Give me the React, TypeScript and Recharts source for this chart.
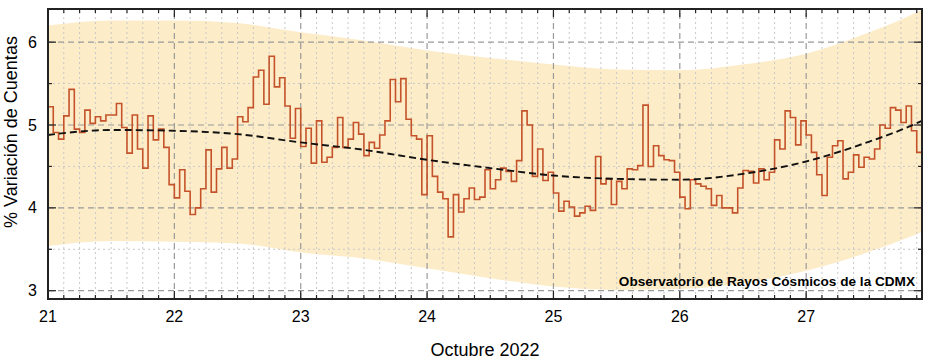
import { ComposedChart, Area, Line, XAxis, YAxis, ReferenceLine } from 'recharts'

// hourly % variation of counts, 21 Oct 00h onwards (one value per hour)
const counts = [
  5.22, 4.91, 4.83, 5.11, 5.43, 4.95, 4.91, 5.18, 5.02, 5.10, 5.05, 5.12, 5.12, 5.26,
  4.97, 4.66, 5.12, 4.71, 4.48, 5.11, 4.82, 4.95, 4.73, 4.28, 4.12, 4.46, 4.20, 3.92,
  4.00, 4.23, 4.70, 4.19, 4.47, 4.73, 4.48, 4.59, 5.10, 5.04, 5.21, 5.58, 5.66, 5.25,
  5.83, 5.46, 5.57, 5.23, 4.84, 5.20, 4.74, 4.96, 4.54, 5.05, 4.55, 4.61, 4.73, 5.09,
  4.73, 4.83, 5.03, 4.89, 4.63, 4.79, 4.72, 4.88, 5.05, 5.55, 5.28, 5.56, 5.07, 4.87,
  4.83, 4.16, 4.87, 4.38, 4.19, 4.11, 3.65, 4.16, 3.95, 4.11, 4.24, 4.10, 4.13, 4.46,
  4.23, 4.34, 4.48, 4.44, 4.32, 4.57, 5.17, 5.00, 4.38, 4.71, 4.33, 4.43, 4.18, 3.96,
  4.08, 4.01, 3.90, 3.94, 4.02, 3.97, 4.62, 4.29, 4.35, 4.04, 4.32, 4.23, 4.47, 4.46,
  4.51, 5.24, 4.50, 4.75, 4.63, 4.58, 4.57, 4.43, 4.13, 3.99, 4.34, 4.29, 4.26, 4.23,
  4.03, 4.15, 4.00, 4.00, 3.94, 4.24, 4.45, 4.44, 4.30, 4.47, 4.34, 4.43, 4.82, 4.71,
  5.17, 5.09, 4.76, 5.05, 4.88, 4.67, 4.40, 4.15, 4.61, 4.75, 4.81, 4.35, 4.43, 4.64,
  4.49, 4.61, 4.59, 4.71, 5.00, 4.96, 5.21, 5.18, 5.03, 5.23, 4.93, 4.67,
]

const fitDays = [21, 21.5, 22, 22.5, 23, 23.5, 24, 24.5, 25, 25.5, 26, 26.5, 27, 27.5, 27.75, 27.917]
const fitTrend = [4.88, 4.94, 4.93, 4.89, 4.79, 4.70, 4.58, 4.48, 4.39, 4.35, 4.34, 4.41, 4.56, 4.80, 4.94, 5.05]
const fitHigh = [6.20, 6.26, 6.26, 6.23, 6.12, 6.02, 5.90, 5.81, 5.73, 5.67, 5.66, 5.73, 5.86, 6.12, 6.27, 6.39]
const fitLow = [3.54, 3.60, 3.59, 3.57, 3.46, 3.39, 3.27, 3.15, 3.05, 3.01, 3.02, 3.09, 3.24, 3.47, 3.61, 3.71]

const dayTicks = [21, 22, 23, 24, 25, 26, 27]
const yTicks = [3, 3.5, 4, 4.5, 5, 5.5, 6]

const START = 21
const X_END = START + counts.length / 24
const Y_MIN = 2.9
const Y_MAX = 6.4

const stepData = counts
  .map((v, i) => ({ t: START + i / 24, v }))
  .concat([{ t: X_END, v: counts[counts.length - 1] }])

const fitData = fitDays.map((d, i) => ({ t: d, trend: fitTrend[i], low: fitLow[i], high: fitHigh[i] }))

// minor ticks every 3 hours
const xTicks: number[] = []
for (let h = 0; START + h / 24 <= X_END; h += 3) xTicks.push(START + h / 24)

const W = 926
const H = 363
const MARGIN = { top: 9, right: 4, bottom: 34, left: 8 }
const X_AXIS_H = 30
const Y_AXIS_W = 40
const PLOT_L = MARGIN.left + Y_AXIS_W
const PLOT_T = MARGIN.top
const PLOT_W = W - MARGIN.left - MARGIN.right - Y_AXIS_W
const PLOT_H = H - MARGIN.top - MARGIN.bottom - X_AXIS_H

// same linear maps as the chart axes, for the frame ticks drawn on top
const px = (t: number) => PLOT_L + ((t - START) / (X_END - START)) * PLOT_W
const py = (v: number) => PLOT_T + ((Y_MAX - v) / (Y_MAX - Y_MIN)) * PLOT_H

const FONT = '"Liberation Sans", Arial, sans-serif'
const FRAME = '#222'
const isWhole = (v: number) => Math.abs(v - Math.round(v)) < 1e-6

function BottomLabel({ x, y, payload }: any) {
  if (!isWhole(payload.value)) return <g />
  return (
    <text x={x} y={y + 23} textAnchor="middle" fontSize={16} fontFamily={FONT} fill="#000">
      {Math.round(payload.value)}
    </text>
  )
}

function LeftLabel({ x, y, payload }: any) {
  if (!isWhole(payload.value)) return <g />
  return (
    <text x={x - 11} y={y} dy="0.35em" textAnchor="end" fontSize={16} fontFamily={FONT} fill="#000">
      {payload.value}
    </text>
  )
}

export default function App() {
  const minorX = xTicks.filter(t => !isWhole(t))
  const majorX = dayTicks.filter(t => t !== START)
  const minorY = yTicks.filter(t => !isWhole(t))
  const majorY = yTicks.filter(t => isWhole(t))
  const bottom = PLOT_T + PLOT_H
  const right = PLOT_L + PLOT_W

  return (
    <div style={{ position: 'absolute', left: 0, top: 0, width: W, height: H }}>
      <ComposedChart width={W} height={H} margin={MARGIN}>
        <Area
          data={fitData}
          dataKey={(d: any) => [d.low, d.high]}
          type="monotone"
          fill="#fdecc8"
          fillOpacity={1}
          stroke="none"
          isAnimationActive={false}
        />

        {minorX.map(t => (
          <ReferenceLine key={'mx' + t} x={t} stroke="#c8c8c8" strokeDasharray="2 3" strokeWidth={1} />
        ))}
        {minorY.map(v => (
          <ReferenceLine key={'my' + v} y={v} stroke="#c8c8c8" strokeDasharray="2 3" strokeWidth={1} />
        ))}
        {majorX.map(t => (
          <ReferenceLine key={'Mx' + t} x={t} stroke="#9a9a9a" strokeDasharray="6 4" strokeWidth={1.2} />
        ))}
        {majorY.map(v => (
          <ReferenceLine key={'My' + v} y={v} stroke="#9a9a9a" strokeDasharray="6 4" strokeWidth={1.2} />
        ))}

        <Line
          data={stepData}
          dataKey="v"
          type="stepAfter"
          stroke="#c4532b"
          strokeWidth={1.6}
          dot={false}
          isAnimationActive={false}
        />
        <Line
          data={fitData}
          dataKey="trend"
          type="monotone"
          stroke="#111"
          strokeWidth={1.9}
          strokeDasharray="7 4"
          dot={false}
          isAnimationActive={false}
        />

        <XAxis
          type="number"
          dataKey="t"
          domain={[START, X_END]}
          allowDataOverflow
          ticks={xTicks}
          interval={0}
          tickSize={0}
          tickMargin={0}
          tickLine={false}
          tick={<BottomLabel />}
          height={X_AXIS_H}
          axisLine={false}
        />
        <YAxis
          type="number"
          domain={[Y_MIN, Y_MAX]}
          allowDataOverflow
          ticks={yTicks}
          interval={0}
          tickSize={0}
          tickMargin={0}
          tickLine={false}
          tick={<LeftLabel />}
          width={Y_AXIS_W}
          axisLine={false}
        />
      </ComposedChart>

      <svg width={W} height={H} style={{ position: 'absolute', left: 0, top: 0, pointerEvents: 'none' }}>
        {/* inward ticks on all four sides */}
        {xTicks.map(t => {
          const len = isWhole(t) ? 8 : 4
          const x = px(t)
          return (
            <g key={'tx' + t}>
              <line x1={x} x2={x} y1={bottom} y2={bottom - len} stroke={FRAME} strokeWidth={1.2} />
              <line x1={x} x2={x} y1={PLOT_T} y2={PLOT_T + len} stroke={FRAME} strokeWidth={1.2} />
            </g>
          )
        })}
        {yTicks.map(v => {
          const len = isWhole(v) ? 8 : 4
          const y = py(v)
          return (
            <g key={'ty' + v}>
              <line x1={PLOT_L} x2={PLOT_L + len} y1={y} y2={y} stroke={FRAME} strokeWidth={1.2} />
              <line x1={right} x2={right - len} y1={y} y2={y} stroke={FRAME} strokeWidth={1.2} />
            </g>
          )
        })}
        <rect x={PLOT_L} y={PLOT_T} width={PLOT_W} height={PLOT_H} fill="none" stroke={FRAME} strokeWidth={2} />

        <text x={915} y={286} textAnchor="end" fontSize={13.6} fontWeight="bold" fontFamily={FONT} fill="#000">
          Observatorio de Rayos Cósmicos de la CDMX
        </text>
        <text x={485} y={356} textAnchor="middle" fontSize={18} fontFamily={FONT} fill="#000">
          Octubre 2022
        </text>
        <text
          x={16.5}
          y={132}
          textAnchor="middle"
          fontSize={18}
          fontFamily={FONT}
          fill="#000"
          transform="rotate(-90 16.5 132)"
        >
          % Variación de Cuentas
        </text>
      </svg>
    </div>
  )
}
